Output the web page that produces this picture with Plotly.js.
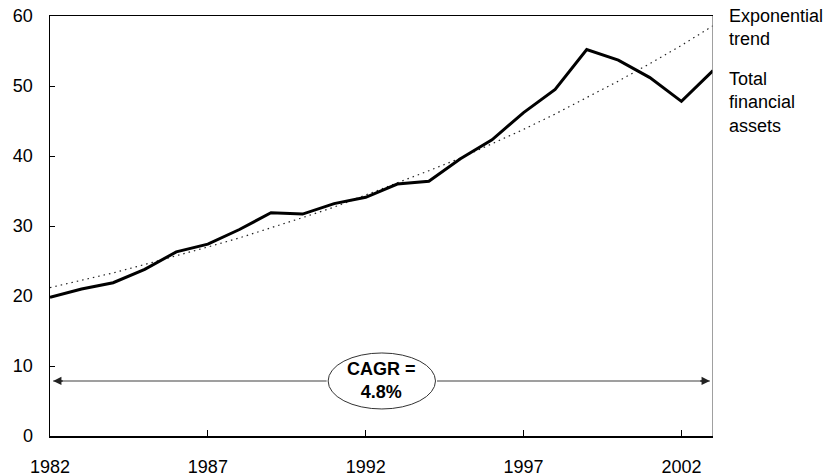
<!DOCTYPE html>
<html>
<head>
<meta charset="utf-8">
<script src="https://cdn.plot.ly/plotly-3.0.1.min.js"></script>
<style>
  html, body { margin: 0; padding: 0; background: #fff; }
  #chart { width: 829px; height: 476px; }
</style>
</head>
<body>
<div id="chart"></div>
<script>
'use strict';

// values
let years = [1982, 1983, 1984, 1985, 1986, 1987, 1988, 1989, 1990, 1991, 1992,
             1993, 1994, 1995, 1996, 1997, 1998, 1999, 2000, 2001, 2002, 2003];
let total_assets = [19.8, 21.0, 21.9, 23.8, 26.3, 27.4, 29.5, 31.9, 31.7, 33.2, 34.1,
                    36.0, 36.4, 39.6, 42.3, 46.2, 49.5, 55.2, 53.7, 51.2, 47.8, 52.2];
let exp_trend = [21.2, 22.2, 23.3, 24.5, 25.7, 27.0, 28.3, 29.7, 31.2, 32.7, 34.4,
                 36.1, 37.9, 39.7, 41.7, 43.8, 46.0, 48.3, 50.7, 53.2, 55.8, 58.6];
let x_ticks = [1982, 1987, 1992, 1997, 2002];
let cagr_text = 'CAGR =<br>4.8%';
let trend_label = 'Exponential<br>trend';
let assets_label = 'Total<br>financial<br>assets';

const font_family = '"Liberation Sans", Arial, Helvetica, sans-serif';

function arrow(x, ax, y, color, head){
    return {
        x: x, y: y, ax: ax, ay: y,
        xref: 'x', yref: 'y', axref: 'x', ayref: 'y',
        text: '', showarrow: true, arrowhead: head, arrowsize: 1.1,
        arrowwidth: 1.5, arrowcolor: color, standoff: 0, startstandoff: 0
    };
}

function draw(){
    var traces = [{
        x: years,
        y: exp_trend,
        type: 'scatter',
        mode: 'lines',
        name: 'Exponential trend',
        line: {color: '#222', width: 1.2, dash: '1.5px,4px'}
    }, {
        x: years,
        y: total_assets,
        type: 'scatter',
        mode: 'lines',
        name: 'Total financial assets',
        line: {color: '#000', width: 3}
    }];

    // the CAGR callout spans the whole period
    let y_arrow = 7.86;
    let ell_left = 1990.81, ell_right = 1994.21;
    let x_first = years[0], x_last = years[years.length - 1];

    var layout = {
        width: 829,
        height: 476,
        showlegend: false,
        paper_bgcolor: '#fff',
        plot_bgcolor: '#fff',
        font: {family: font_family, size: 18, color: '#000'},
        margin: {l: 50, r: 116, t: 16, b: 40},
        xaxis: {
            range: [x_first, x_last],
            tickvals: x_ticks,
            ticks: 'inside',
            ticklen: 6,
            tickcolor: '#000',
            showgrid: false,
            zeroline: false,
            showline: true,
            linecolor: '#000',
            linewidth: 1.5,
            mirror: true,
            ticklabelstandoff: 14,
            tickfont: {size: 18}
        },
        yaxis: {
            range: [0, 60],
            dtick: 10,
            ticks: 'inside',
            ticklen: 5,
            tickcolor: '#000',
            showgrid: false,
            zeroline: false,
            showline: true,
            linecolor: '#000',
            linewidth: 1.5,
            ticklabelstandoff: 12,
            tickfont: {size: 18}
        },
        shapes: [{
            type: 'line', xref: 'x', yref: 'paper',
            x0: x_last, x1: x_last, y0: 0, y1: 1,
            line: {color: '#808080', width: 1.5}
        }, {
            type: 'circle', xref: 'x', yref: 'y',
            x0: ell_left, x1: ell_right, y0: 3.86, y1: 11.86,
            line: {color: '#333', width: 1},
            fillcolor: '#fff'
        }],
        annotations: [
            arrow(x_first + 0.1, ell_left, y_arrow, '#808080', 0),
            arrow(x_last - 0.1, ell_right, y_arrow, '#808080', 0),
            arrow(x_first + 0.1, x_first + 0.45, y_arrow, '#222', 2),
            arrow(x_last - 0.1, x_last - 0.45, y_arrow, '#222', 2),
            {
                x: (ell_left + ell_right) / 2, y: y_arrow,
                xref: 'x', yref: 'y',
                text: '<b>' + cagr_text + '</b>',
                showarrow: false,
                font: {size: 18, color: '#000'}
            }, {
                x: 1.021, y: 0.9726, xref: 'paper', yref: 'paper',
                xanchor: 'left', yanchor: 'middle', align: 'left',
                text: trend_label, showarrow: false,
                font: {size: 18, color: '#000'}
            }, {
                x: 1.021, y: 0.795, xref: 'paper', yref: 'paper',
                xanchor: 'left', yanchor: 'middle', align: 'left',
                text: assets_label, showarrow: false,
                font: {size: 18, color: '#000'}
            }
        ]
    };

    Plotly.newPlot('chart', traces, layout, {displayModeBar: false, staticPlot: true});
}

draw();
</script>
</body>
</html>
